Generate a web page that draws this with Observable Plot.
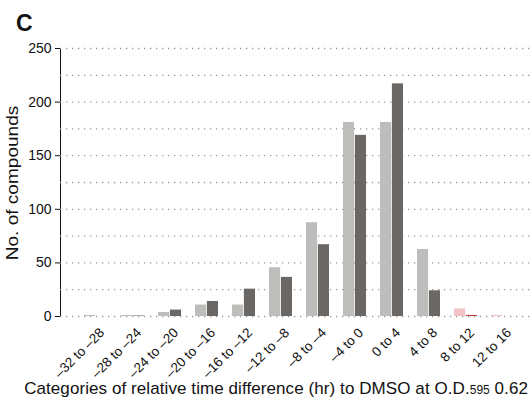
<!DOCTYPE html>
<html>
<head>
<meta charset="utf-8">
<script src="https://cdn.jsdelivr.net/npm/d3@7"></script>
<script src="https://cdn.jsdelivr.net/npm/@observablehq/plot@0.6"></script>
<style>
  body { margin: 0; background: #fff; }
  #wrap { position: relative; width: 532px; height: 402px; font-family: "Liberation Sans", Arial, sans-serif; color: #111; overflow: hidden; }
  #panel { position: absolute; left: 16px; top: 10px; font-size: 23px; font-weight: bold; }
  #xtitle { position: absolute; left: 0; width: 528px; top: 379px; font-size: 17px; white-space: nowrap; text-align: right; letter-spacing: 0.08px; }
  #xtitle span { font-size: 12px; letter-spacing: 0; }
  #ytitle { position: absolute; left: 13px; top: 183px; font-size: 17px; white-space: nowrap; transform: translate(-50%, -50%) rotate(-90deg) scaleX(1.12); }
  svg { position: absolute; left: 0; top: 0; }
</style>
</head>
<body>
<div id="wrap">
  <div id="chart"></div>
  <div id="panel">C</div>
  <div id="ytitle">No. of compounds</div>
  <div id="xtitle">Categories of relative time difference (hr) to DMSO at O.D.<span>595</span> 0.62</div>
</div>
<script>
const categories = ["–32 to –28", "–28 to –24", "–24 to –20", "–20 to –16", "–16 to –12", "–12 to –8", "–8 to –4", "–4 to 0", "0 to 4", "4 to 8", "8 to 12", "12 to 16"];
const seriesNames = ["series A", "series B"];
const seriesA = [1, 1, 3.7, 10.7, 10.7, 45.5, 87.5, 181, 181, 62.5, 7, 1];
const seriesB = [0, 0.5, 6, 14, 25.5, 36.5, 67, 169, 217, 24, 1, 0];
const highlighted = ["8 to 12", "12 to 16"];
const yTicks = [0, 50, 100, 150, 200, 250];
const gridTicks = [0, 25, 50, 75, 100, 125, 150, 175, 200, 225, 250];

const rowsA = categories.map((c, i) => ({category: c, series: seriesNames[0], value: seriesA[i]}));
const rowsB = categories.map((c, i) => ({category: c, series: seriesNames[1], value: seriesB[i]}));
const colorKey = d => (highlighted.includes(d.category) ? "hl " : "") + d.series;

const chart = Plot.plot({
  width: 532,
  height: 402,
  marginTop: 48,
  marginBottom: 86,
  marginLeft: 60,
  marginRight: 0,
  style: {fontFamily: "'Liberation Sans', Arial, sans-serif", fontSize: "14px", color: "#111", background: "transparent"},
  x: {domain: categories, range: [71.5, 526], padding: 0},
  y: {domain: [0, 250], ticks: yTicks, tickSize: 5, label: null, line: true},
  color: {domain: seriesNames.concat(seriesNames.map(s => "hl " + s)), range: ["#bdbdbb", "#6b6765", "#f2c3c4", "#c0413c"]},
  marks: [
    Plot.ruleY(gridTicks, {stroke: "#9a9a9a", strokeWidth: 1.3, strokeDasharray: "1.3,4.7"}),
    Plot.barY(rowsA, {x: "category", y: "value", fill: colorKey, insetLeft: 7, insetRight: 18.9}),
    Plot.barY(rowsB, {x: "category", y: "value", fill: colorKey, insetLeft: 18.9, insetRight: 7}),
    Plot.axisX({tickRotate: -45, tickSize: 0, tickPadding: 14, fontSize: 13.5, dx: 6, label: null})
  ]
});
document.getElementById("chart").appendChild(chart);
</script>
</body>
</html>
